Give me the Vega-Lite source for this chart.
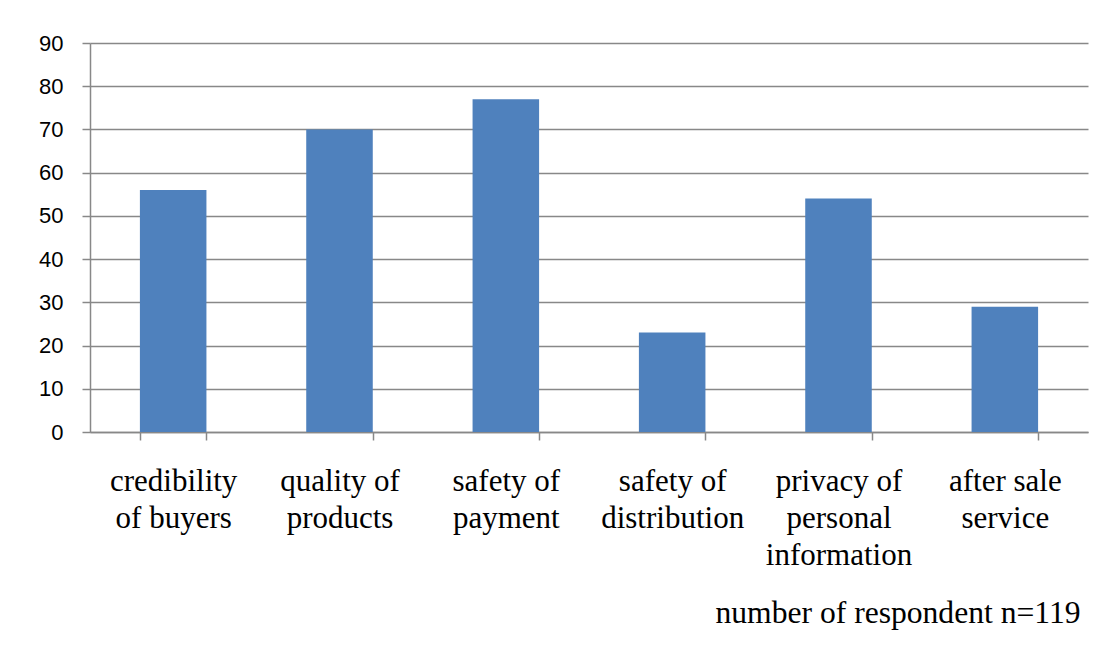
{
  "$schema": "https://vega.github.io/schema/vega-lite/v6.json",
  "autosize": {"type": "none"},
  "width": 998,
  "height": 389,
  "padding": {"left": 90, "top": 43, "right": 29, "bottom": 219},
  "background": "white",
  "config": {"view": {"stroke": null}},
  "data": {
    "values": [
      {"factor": "credibility of buyers", "count": 56},
      {"factor": "quality of products", "count": 70},
      {"factor": "safety of payment", "count": 77},
      {"factor": "safety of distribution", "count": 23},
      {"factor": "privacy of personal information", "count": 54},
      {"factor": "after sale service", "count": 29}
    ]
  },
  "mark": {"type": "bar", "color": "#4f81bd"},
  "encoding": {
    "x": {
      "field": "factor",
      "type": "nominal",
      "sort": null,
      "scale": {"paddingInner": 0.6, "paddingOuter": 0.3},
      "axis": {
        "title": "number of respondent n=119",
        "titleFont": "Liberation Serif",
        "titleFontSize": 31.6,
        "titleFontWeight": "normal",
        "titleColor": "black",
        "titleAlign": "right",
        "titleBaseline": "alphabetic",
        "titleX": 990,
        "titleY": 190,
        "labelAngle": 0,
        "labelFont": "Liberation Serif",
        "labelFontSize": 31,
        "labelColor": "black",
        "labelBaseline": "alphabetic",
        "labelPadding": 50,
        "labelLineHeight": 37,
        "labelExpr": "datum.extra ? '' : datum.value == 'credibility of buyers' ? ['credibility', 'of buyers'] : datum.value == 'quality of products' ? ['quality of', 'products'] : datum.value == 'safety of payment' ? ['safety of', 'payment'] : datum.value == 'safety of distribution' ? ['safety of', 'distribution'] : datum.value == 'privacy of personal information' ? ['privacy of', 'personal', 'information'] : ['after sale', 'service']",
        "tickBand": "extent",
        "tickSize": 8,
        "tickColor": "#888888",
        "tickWidth": 1.5,
        "domainColor": "#888888",
        "domainWidth": 1.5,
        "labelLimit": 0,
        "labelOverlap": false
      }
    },
    "y": {
      "field": "count",
      "type": "quantitative",
      "scale": {"domain": [0, 90]},
      "axis": {
        "title": null,
        "values": [0, 10, 20, 30, 40, 50, 60, 70, 80, 90],
        "labelFont": "Liberation Sans",
        "labelFontSize": 22,
        "labelColor": "black",
        "labelPadding": 19,
        "tickSize": 8,
        "tickColor": "#888888",
        "tickWidth": 1.5,
        "domainColor": "#888888",
        "domainWidth": 1.5,
        "grid": true,
        "gridColor": "#888888",
        "gridWidth": 1.5
      }
    }
  }
}
